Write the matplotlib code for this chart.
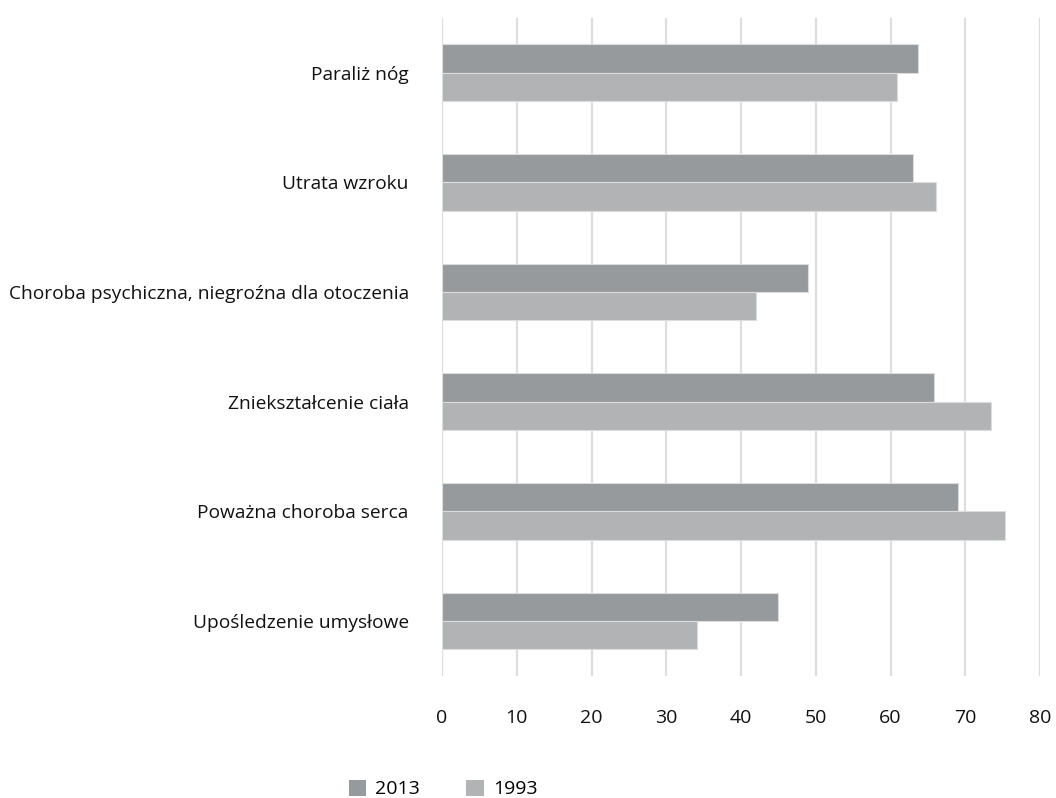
import numpy as np
import matplotlib
matplotlib.use("Agg")
import matplotlib.pyplot as plt
from matplotlib.patches import Patch

plt.rcParams['font.family'] = ['Open Sans', 'DejaVu Sans']

# Kategorie (od góry do dołu) i wartości dla obu lat
kategorie = [
    "Paraliż nóg",
    "Utrata wzroku",
    "Choroba psychiczna, niegroźna dla otoczenia",
    "Zniekształcenie ciała",
    "Poważna choroba serca",
    "Upośledzenie umysłowe",
]
wartosci_2013 = [63.7, 63.0, 48.9, 65.8, 69.0, 45.0]
wartosci_1993 = [60.9, 66.1, 42.0, 73.5, 75.3, 34.1]
lata = ["2013", "1993"]
ticki_x = [0, 10, 20, 30, 40, 50, 60, 70, 80]

kolor_2013 = "#979a9c"
kolor_1993 = "#b2b3b5"

fig = plt.figure(figsize=(10.56, 7.98), dpi=100)
ax = fig.add_axes([0.4186, 0.1531, 0.5663, 0.8247])

y = np.arange(len(kategorie))
h = 0.258
ax.barh(y - h / 2, wartosci_2013, height=h, color=kolor_2013,
        edgecolor="#dcdcdc", linewidth=0.8, zorder=3)
ax.barh(y + h / 2, wartosci_1993, height=h, color=kolor_1993,
        edgecolor="#dcdcdc", linewidth=0.8, zorder=3)

ax.set_ylim(len(kategorie) - 0.5, -0.5)
ax.set_xlim(0, 80)
ax.set_yticks(y)
ax.set_yticklabels(kategorie, fontsize=13.8, color="#111111")
ax.set_xticks(ticki_x)
ax.set_xticklabels([str(t) for t in ticki_x], fontsize=14, color="#111111")

ax.xaxis.grid(True, color="#dedede", linewidth=1.6, zorder=0)
ax.tick_params(axis="y", length=0, pad=24)
ax.tick_params(axis="x", length=0, pad=24)
for s in ax.spines.values():
    s.set_visible(False)

uchwyty = [Patch(facecolor=kolor_2013, label=lata[0]),
           Patch(facecolor=kolor_1993, label=lata[1])]
fig.legend(handles=uchwyty, loc="center", ncol=2, frameon=False,
           bbox_to_anchor=(443 / 1056, 1 - 789 / 798), fontsize=14,
           handlelength=0.9, handleheight=0.9, handletextpad=0.45,
           columnspacing=2.4)

fig.savefig("out.png", dpi=100)
